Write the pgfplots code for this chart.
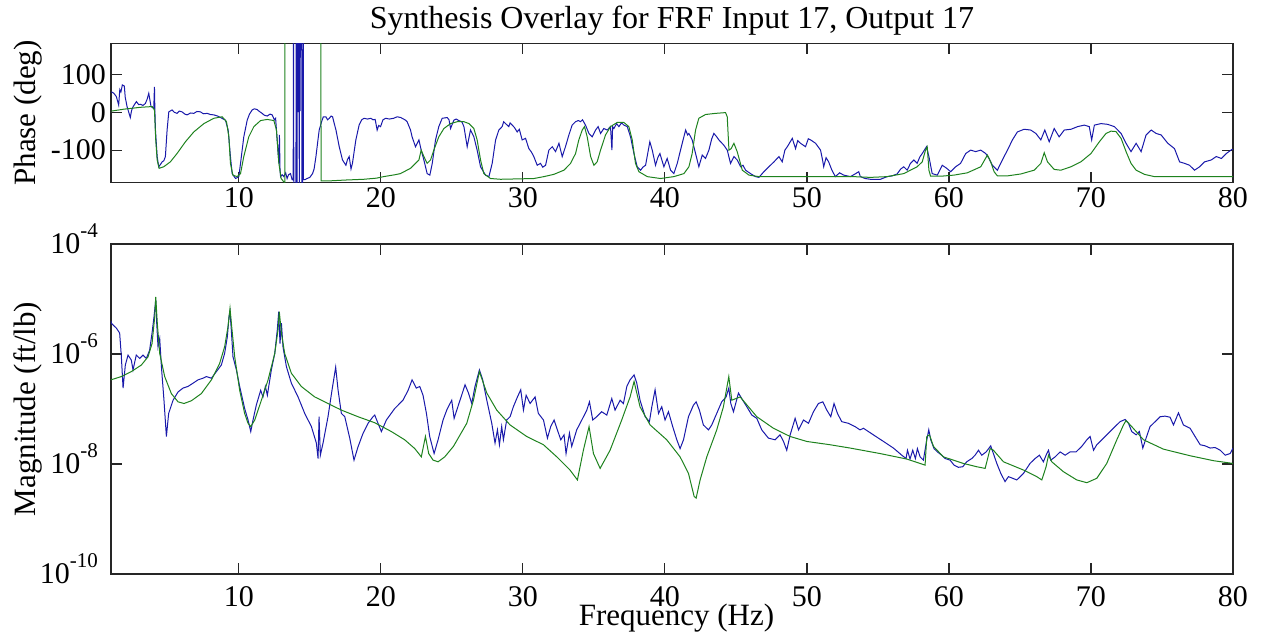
\documentclass[border=0pt]{standalone}
\usepackage{pgfplots}
\pgfplotsset{compat=1.18}
\usepackage{pgfplotstable}
\usepackage{fontspec}
\setmainfont{Liberation Serif}
\definecolor{mblue}{RGB}{25,25,170}
\definecolor{mgreen}{RGB}{30,130,30}
\newcommand{\tenexp}[1]{10\smash{\raisebox{0.55em}{\fontsize{10.5}{10.5}\selectfont #1}}}

\pgfplotstableread{
f deg
1.03 54
1.2 50
1.38 41
1.54 19
1.62 60
1.7 54
1.8 72
1.94 69
2.0 40
2.13 15
2.36 -14
2.45 5
2.56 15
2.79 28
2.95 20
3.07 21
3.25 18
3.42 23
3.55 35
3.66 50
3.75 30
3.82 15
4.01 10
4.06 67
4.09 5
4.13 -47
4.25 -117
4.36 -144
4.48 -138
4.6 -131
4.72 -128
4.83 -117
4.95 -47
5.07 1
5.3 6
5.45 0
5.65 -3
5.8 3
6.0 1
6.2 -5
6.36 -7
6.6 -2
6.83 -3
7.05 2
7.3 1
7.5 -4
7.77 -3
8.0 -6
8.24 -7
8.5 -10
8.71 -14
9.06 -21
9.25 -47
9.41 -117
9.53 -162
9.77 -175
10.0 -170
10.12 -135
10.35 -65
10.59 -21
10.75 -5
10.94 6
11.1 9
11.29 7
11.45 2
11.64 -3
11.8 -8
12.0 -10
12.2 -5
12.35 -7
12.5 -20
12.59 -16
12.7 -73
12.82 -135
12.86 -60
12.9 -150
12.94 -170
13.05 -165
13.17 -170
13.3 -160
13.4 -175
13.5 -165
13.64 -162
13.75 -178
13.83 -179
13.84 190
13.86 190
13.87 -190
14.02 -190
14.04 190
14.06 0
14.08 190
14.1 -190
14.12 190
14.15 5
14.18 190
14.2 0
14.23 190
14.26 -190
14.28 190
14.31 3
14.33 190
14.43 190
14.44 -190
14.5 -190
14.52 190
14.54 190
14.55 -178
14.66 -178
14.8 -175
15.0 -172
15.19 -162
15.3 -150
15.43 -117
15.55 -80
15.66 -47
15.83 -25
15.95 -12
16.13 -12
16.25 -20
16.37 -16
16.5 -10
16.6 -12
16.72 -30
16.84 -47
17.07 -91
17.3 -126
17.54 -140
17.65 -125
17.77 -117
17.9 -150
18.0 -135
18.24 -73
18.47 -34
18.65 -20
18.82 -16
19.05 -18
19.3 -16
19.45 -20
19.6 -19
19.74 -47
19.85 -35
19.98 -38
20.15 -20
20.34 -16
20.6 -18
20.9 -16
21.15 -12
21.4 -14
21.6 -18
21.74 -21
21.85 -25
22.09 -47
22.2 -65
22.44 -91
22.68 -73
22.84 -100
23.03 -126
23.26 -162
23.45 -166
23.62 -135
23.85 -73
24.08 -38
24.32 -16
24.67 -14
24.8 -20
24.91 -43
25.14 -21
25.3 -18
25.49 -22
25.7 -25
25.85 -38
26.08 -91
26.31 -47
26.55 -65
26.78 -100
27.02 -144
27.37 -166
27.61 -170
27.84 -135
28.08 -73
28.31 -47
28.54 -38
28.65 -25
28.78 -30
29.01 -38
29.1 -28
29.25 -34
29.4 -40
29.6 -52
29.75 -45
29.95 -73
30.19 -69
30.42 -96
30.6 -105
30.77 -117
31.01 -140
31.24 -135
31.4 -145
31.6 -140
31.83 -100
32.07 -91
32.3 -104
32.54 -82
32.77 -117
33.0 -91
33.24 -60
33.47 -34
33.71 -25
33.9 -22
34.06 -25
34.2 -20
34.41 -34
34.65 -56
34.88 -65
35.12 -47
35.3 -38
35.47 -56
35.7 -43
35.94 -47
36.17 -38
36.27 -100
36.32 -38
36.41 -43
36.6 -30
36.76 -38
36.95 -28
37.11 -34
37.35 -38
37.58 -65
37.82 -109
38.05 -144
38.29 -153
38.45 -145
38.64 -140
38.94 -78
39.11 -100
39.34 -140
39.5 -120
39.65 -109
39.93 -144
40.16 -122
40.4 -153
40.63 -162
40.87 -135
41.22 -82
41.46 -47
41.6 -60
41.69 -56
41.92 -73
42.16 -109
42.39 -144
42.63 -113
42.86 -122
43.1 -100
43.3 -70
43.45 -56
43.65 -65
43.8 -73
44.15 -87
44.39 -100
44.62 -135
44.86 -117
45.09 -126
45.33 -144
45.5 -140
45.68 -153
46.03 -162
46.38 -170
46.62 -172
46.97 -157
47.32 -144
47.68 -131
48.03 -117
48.26 -131
48.45 -100
48.62 -91
48.97 -69
49.2 -96
49.35 -75
49.55 -82
49.9 -91
50.1 -70
50.26 -73
50.61 -82
50.96 -100
51.1 -126
51.18 -144
51.35 -120
51.53 -131
51.76 -153
52.0 -170
52.3 -160
52.59 -166
53.06 -170
53.3 -165
53.65 -157
53.76 -170
54.1 -175
54.47 -177
55.18 -177
55.65 -170
56.0 -168
56.35 -163
56.6 -150
56.82 -144
57.06 -153
57.29 -135
57.53 -126
57.76 -135
57.95 -118
58.12 -109
58.42 -91
58.59 -117
58.82 -162
59.18 -166
59.53 -140
59.84 -148
60.12 -157
60.47 -144
60.82 -135
61.18 -109
61.53 -100
61.88 -104
62.24 -100
62.59 -109
62.82 -122
63.06 -140
63.41 -153
63.76 -126
64.12 -100
64.47 -73
64.82 -52
65.29 -45
65.76 -47
66.12 -56
66.47 -73
66.75 -47
67.06 -78
67.41 -43
67.76 -65
68.12 -47
68.59 -45
69.06 -38
69.53 -34
69.88 -38
70.05 -73
70.24 -34
70.71 -30
71.18 -32
71.65 -38
72.12 -56
72.47 -82
72.82 -104
73.18 -82
73.53 -104
73.88 -60
74.24 -47
74.59 -56
74.94 -60
75.41 -82
75.88 -96
76.24 -131
76.59 -135
76.94 -140
77.29 -153
77.65 -144
78.0 -131
78.47 -126
78.82 -117
79.18 -122
79.53 -109
79.93 -98
80.0 -98
}\phasemeas

\pgfplotstableread{
f deg
1.03 3
1.9 8
3.07 13
3.9 15
4.06 6
4.15 -73
4.25 -126
4.39 -148
4.71 -144
5.18 -131
5.65 -109
6.24 -78
6.83 -52
7.54 -30
8.24 -16
8.83 -12
9.13 -25
9.3 -65
9.41 -135
9.58 -166
9.88 -170
10.12 -162
10.35 -117
10.7 -65
11.06 -38
11.53 -22
12.0 -19
12.47 -22
12.65 -47
12.82 -135
12.98 -175
13.17 -184
13.24 -185
13.25 190
15.78 190
15.79 -181
16.5 -181
17.5 -179
18.8 -177
19.7 -174
20.2 -170
21.0 -165
21.38 -162
22.09 -148
22.68 -126
22.84 -100
23.03 -117
23.26 -135
23.5 -126
23.73 -100
24.08 -65
24.44 -43
24.91 -30
25.38 -25
25.85 -25
26.2 -30
26.55 -43
26.78 -73
27.02 -126
27.25 -162
27.72 -175
28.43 -177
29.6 -176
30.77 -175
31.48 -170
32.18 -164
32.89 -153
33.36 -135
33.71 -109
33.94 -73
34.18 -47
34.34 -38
34.53 -65
34.77 -117
35.0 -140
35.23 -131
35.47 -100
35.82 -60
36.17 -38
36.64 -27
37.11 -27
37.46 -38
37.7 -73
37.93 -135
38.17 -157
38.76 -170
39.69 -175
40.63 -170
41.34 -162
41.69 -144
41.92 -109
42.16 -47
42.39 -16
42.86 -6
43.57 -3
44.27 -1
44.39 -12
44.51 -100
44.67 -96
44.86 -82
45.09 -104
45.45 -153
45.92 -166
46.62 -170
50.96 -170
53.3 -170
54.47 -172
55.65 -170
56.82 -162
57.76 -144
58.12 -131
58.35 -100
58.47 -91
58.59 -153
58.71 -169
59.41 -169
60.35 -166
61.29 -160
62.24 -144
62.71 -113
62.94 -131
63.18 -157
63.41 -168
64.12 -168
65.06 -163
66.0 -153
66.47 -135
66.71 -107
66.94 -131
67.41 -151
67.88 -153
68.59 -144
69.29 -131
70.0 -109
70.59 -78
71.06 -56
71.41 -50
71.76 -51
72.12 -69
72.47 -104
72.82 -135
73.18 -153
73.76 -164
74.47 -170
80.0 -170
}\phasesyn

\pgfplotstableread{
f lg
1.0 -5.40
1.02 -5.44
1.38 -5.53
1.61 -5.62
1.73 -6.05
1.85 -6.62
2.01 -6.2
2.2 -6.02
2.43 -6.11
2.55 -6.29
2.78 -6.02
3.02 -6.08
3.25 -6.02
3.49 -6.08
3.72 -5.93
3.89 -5.62
4.03 -5.32
4.15 -5.02
4.22 -5.44
4.31 -5.87
4.43 -5.72
4.55 -6.23
4.73 -6.84
4.9 -7.5
5.06 -7.08
5.37 -6.84
5.72 -6.69
6.07 -6.62
6.42 -6.59
6.78 -6.53
7.13 -6.47
7.48 -6.44
7.71 -6.41
8.07 -6.44
8.42 -6.32
8.77 -6.2
9.0 -5.99
9.19 -5.69
9.31 -5.32
9.38 -5.23
9.47 -5.56
9.59 -6.05
9.83 -6.29
10.06 -6.59
10.41 -6.99
10.65 -7.2
10.84 -7.41
11.0 -7.2
11.23 -6.93
11.54 -6.66
11.7 -6.78
11.87 -6.59
12.01 -6.75
12.29 -6.29
12.53 -5.99
12.71 -5.56
12.81 -5.23
12.9 -5.81
13.0 -5.44
13.11 -5.87
13.35 -6.23
13.7 -6.53
14.17 -6.78
14.64 -7.08
15.11 -7.32
15.46 -7.62
15.58 -7.9
15.65 -7.14
15.74 -7.84
15.93 -7.62
16.28 -7.14
16.56 -6.66
16.82 -6.24
16.99 -6.66
17.22 -7.08
17.46 -7.14
17.81 -7.53
18.11 -7.93
18.39 -7.69
18.75 -7.44
19.1 -7.26
19.45 -7.14
19.57 -7.11
19.8 -7.26
20.04 -7.41
20.39 -7.2
20.98 -6.99
21.56 -6.84
21.92 -6.66
22.2 -6.47
22.5 -6.62
22.74 -6.59
22.97 -6.75
23.21 -7.08
23.44 -7.5
23.75 -7.81
24.03 -7.56
24.38 -7.2
24.64 -7.02
24.99 -6.84
25.16 -7.17
25.46 -6.93
25.93 -6.56
26.17 -6.71
26.4 -6.9
26.63 -6.59
26.94 -6.29
27.17 -6.47
27.46 -6.84
27.81 -7.26
28.04 -7.62
28.21 -7.38
28.35 -7.65
28.51 -7.32
28.63 -7.56
28.86 -7.2
29.1 -7.14
29.33 -6.96
29.62 -6.78
29.85 -6.65
30.04 -7.02
30.23 -6.75
30.51 -6.9
30.86 -6.78
31.09 -7.08
31.45 -7.2
31.73 -7.53
31.96 -7.32
32.2 -7.2
32.43 -7.38
32.67 -7.56
32.9 -7.47
33.04 -7.81
33.28 -7.44
33.44 -7.68
33.79 -7.38
34.15 -7.2
34.5 -7.02
34.69 -6.87
34.92 -7.2
35.2 -7.14
35.55 -7.05
35.91 -7.11
36.26 -6.81
36.49 -7.02
36.85 -6.84
37.08 -6.9
37.32 -6.59
37.55 -6.47
37.83 -6.38
38.02 -6.53
38.25 -6.84
38.61 -7.14
38.91 -7.23
39.08 -6.96
39.31 -6.65
39.55 -7.08
39.78 -6.96
40.01 -7.2
40.25 -7.05
40.55 -7.32
40.84 -7.56
41.07 -7.72
41.31 -7.56
41.66 -7.14
42.01 -6.93
42.2 -6.87
42.43 -7.02
42.71 -7.29
43.07 -7.38
43.3 -7.29
43.65 -7.08
44.0 -6.87
44.31 -6.78
44.5 -6.62
44.64 -6.9
44.83 -7.05
45.18 -6.71
45.48 -6.84
45.77 -6.96
46.12 -7.11
46.47 -7.17
46.82 -7.38
47.29 -7.53
47.76 -7.56
48.11 -7.47
48.35 -7.59
48.58 -7.75
48.82 -7.47
49.17 -7.17
49.41 -7.38
49.76 -7.2
50.11 -7.26
50.46 -7.05
50.81 -6.9
51.12 -6.87
51.4 -7.02
51.68 -7.14
51.91 -6.9
52.15 -7.08
52.45 -7.23
52.92 -7.26
53.39 -7.32
53.74 -7.38
53.98 -7.35
54.68 -7.47
55.39 -7.59
56.09 -7.71
56.68 -7.84
56.98 -7.9
57.08 -7.75
57.26 -7.91
57.45 -7.75
57.64 -7.9
57.78 -7.72
57.97 -7.87
58.2 -7.93
58.44 -7.56
58.58 -7.38
58.72 -7.56
58.95 -7.72
59.19 -7.78
59.49 -7.84
59.73 -7.9
60.08 -7.93
60.36 -8.02
60.67 -8.06
60.97 -8.05
61.25 -7.96
61.61 -7.9
61.84 -7.84
62.08 -7.75
62.31 -7.84
62.62 -7.78
62.94 -7.67
63.13 -7.81
63.37 -7.99
63.65 -8.17
63.95 -8.32
64.19 -8.23
64.49 -8.26
64.78 -8.29
65.25 -8.17
65.71 -7.99
66.07 -7.9
66.37 -7.84
66.65 -7.96
66.84 -7.84
67.01 -7.75
67.17 -7.93
67.48 -7.87
67.83 -7.78
68.18 -7.84
68.53 -7.78
68.95 -7.78
69.35 -7.68
69.71 -7.56
69.94 -7.5
70.18 -7.75
70.41 -7.65
70.76 -7.56
71.11 -7.47
71.58 -7.35
72.05 -7.23
72.41 -7.19
72.64 -7.26
72.87 -7.41
73.18 -7.47
73.41 -7.41
73.65 -7.71
73.88 -7.53
74.16 -7.32
74.52 -7.23
74.87 -7.14
75.22 -7.13
75.57 -7.15
75.81 -7.29
76.16 -7.07
76.51 -7.29
76.98 -7.35
77.33 -7.5
77.69 -7.65
78.04 -7.67
78.39 -7.71
78.74 -7.7
79.1 -7.75
79.45 -7.84
79.8 -7.81
80.0 -7.71
}\magmeas

\pgfplotstableread{
f lg
1.0 -6.47
1.73 -6.41
2.43 -6.32
3.14 -6.2
3.61 -6.05
3.89 -5.81
4.08 -5.32
4.15 -4.96
4.26 -5.44
4.43 -5.99
4.78 -6.41
5.25 -6.72
5.72 -6.87
6.14 -6.9
6.66 -6.85
7.36 -6.72
8.07 -6.47
8.65 -6.17
9.0 -5.87
9.24 -5.5
9.38 -5.17
9.52 -5.56
9.71 -6.05
10.06 -6.66
10.41 -7.08
10.65 -7.26
10.84 -7.32
11.12 -7.2
11.59 -6.84
12.06 -6.47
12.53 -5.99
12.76 -5.56
12.85 -5.23
13.0 -5.62
13.23 -5.99
13.7 -6.35
14.4 -6.59
15.34 -6.78
16.28 -6.9
17.22 -7.02
18.39 -7.14
19.57 -7.25
20.74 -7.41
21.68 -7.56
22.39 -7.72
22.85 -7.87
23.14 -7.5
23.37 -7.81
23.68 -7.93
24.03 -7.96
24.5 -7.87
25.11 -7.68
26.05 -7.26
26.52 -6.84
26.94 -6.32
27.46 -6.71
28.16 -7.02
29.1 -7.29
30.27 -7.5
31.45 -7.65
32.39 -7.87
33.32 -8.11
33.84 -8.29
34.26 -7.75
34.66 -7.32
34.97 -7.81
35.44 -8.08
36.14 -7.75
36.96 -7.2
37.55 -6.78
37.83 -6.5
38.25 -6.96
38.96 -7.29
40.13 -7.56
41.07 -7.87
41.66 -8.17
42.06 -8.59
42.2 -8.62
42.48 -8.29
42.95 -7.87
43.65 -7.38
44.12 -6.96
44.5 -6.41
44.71 -6.84
45.3 -6.78
46.47 -7.14
47.64 -7.35
48.82 -7.5
49.99 -7.59
51.63 -7.65
53.04 -7.71
55.15 -7.81
57.03 -7.91
58.32 -8.02
58.44 -7.5
58.63 -7.47
58.91 -7.68
59.61 -7.87
61.02 -7.99
61.96 -8.05
62.55 -8.08
62.9 -7.72
63.13 -7.75
63.84 -7.96
65.25 -8.11
66.18 -8.23
66.54 -8.29
66.84 -8.05
67.01 -7.84
67.24 -7.96
68.06 -8.14
69.0 -8.29
69.71 -8.34
70.41 -8.26
71.11 -7.99
71.82 -7.56
72.29 -7.29
72.47 -7.21
72.87 -7.32
73.7 -7.56
75.1 -7.73
76.98 -7.85
78.63 -7.94
80.0 -7.99
}\magsyn

\pgfplotsset{
  mstyle/.style={
    scale only axis,
    width=561pt,
    xmin=1, xmax=80,
    xtick={10,20,30,40,50,60,70,80},
    xticklabels={10,20,30,40,50,60,70,80},
    tick align=inside,
    major tick length=5.5pt,
    minor tick num=0,
    axis line style={black!85, line width=0.6pt},
    every tick/.style={black!85, line width=0.6pt},
    tick label style={font=\fontsize{15}{15}\selectfont},
    label style={font=\fontsize{15.5}{16}\selectfont},
    clip=true,
  },
}

\begin{document}
\begin{tikzpicture}
\useasboundingbox (0,0) rectangle (631.5pt,318pt);

\begin{axis}[mstyle,
  at={(55.5pt,226.65pt)}, anchor=south west,
  height=69.7pt,
  ymin=-186, ymax=182,
  ytick={-100,0,100},
  yticklabels={-100,0,100},
  yticklabel style={xshift=1pt},
  xticklabel style={yshift=1pt},
  ylabel={Phase (deg)},
  ylabel style={at={(axis description cs:-0.074,0.5)}, anchor=center},
  title={Synthesis Overlay for FRF Input 17, Output 17},
  title style={font=\fontsize{16}{16}\selectfont, at={(axis description cs:0.5,1)}, anchor=base, yshift=1.5pt},
]
\addplot[mblue, line width=0.5pt] table[x=f, y=deg] {\phasemeas};
\addplot[mgreen, line width=0.5pt] table[x=f, y=deg] {\phasesyn};
\end{axis}

\begin{axis}[mstyle,
  at={(55.5pt,31pt)}, anchor=south west,
  height=165pt,
  ymin=-10, ymax=-4,
  ytick={-10,-8,-6,-4},
  yticklabels={\tenexp{-10},\tenexp{-8},\tenexp{-6},\tenexp{-4}},
  yticklabel style={xshift=-3pt},
  xticklabel style={yshift=-2.5pt},
  ylabel={Magnitude (ft/lb)},
  ylabel style={at={(axis description cs:-0.074,0.5)}, anchor=center},
  xlabel={Frequency (Hz)},
  xlabel style={at={(axis description cs:0.504,0)}, anchor=base, yshift=-26pt},
]
\addplot[mblue, line width=0.5pt] table[x=f, y=lg] {\magmeas};
\addplot[mgreen, line width=0.5pt] table[x=f, y=lg] {\magsyn};
\end{axis}
\end{tikzpicture}
\end{document}
